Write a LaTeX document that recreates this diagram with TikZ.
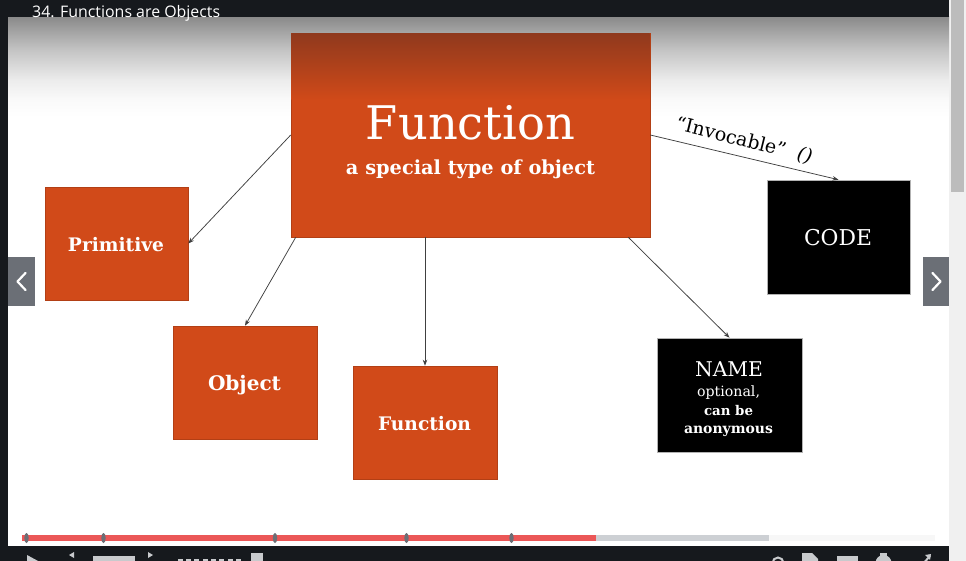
\documentclass[tikz,border=0pt]{standalone}
\usepackage{fontspec}
\setmainfont{DejaVu Serif}
\newfontfamily\uifont{Open Sans}
\usetikzlibrary{arrows.meta,calc}
\definecolor{fnorange}{HTML}{D14A19}
\definecolor{fnorangedark}{HTML}{8F391D}
\definecolor{playerdark}{HTML}{16191D}
\definecolor{navgray}{HTML}{6B6F76}
\definecolor{arrowgray}{HTML}{404040}
\definecolor{progred}{HTML}{EB5757}
\definecolor{proggray}{HTML}{CDD0D4}
\definecolor{progtrack}{HTML}{F7F7F7}
\definecolor{uiicon}{HTML}{C8CACD}
\definecolor{sidegray}{HTML}{F0F0F0}
\definecolor{thumbgray}{HTML}{BCBCBC}
\definecolor{gA}{HTML}{8A8A8A}
\definecolor{gB}{HTML}{AAAAAA}
\definecolor{gC}{HTML}{C4C4C4}
\definecolor{gD}{HTML}{D8D8D8}
\definecolor{gE}{HTML}{ECECEC}
\definecolor{gF}{HTML}{FAFAFA}
\pgfdeclareverticalshading{slidetop}{100bp}{color(0bp)=(white); color(25bp)=(white); color(33.5bp)=(gF); color(43.5bp)=(gE); color(51bp)=(gD); color(58.5bp)=(gC); color(66bp)=(gB); color(75bp)=(gA); color(100bp)=(gA)}
\newcommand{\fitw}[2]{\resizebox{#1}{!}{#2}}
\begin{document}
\begin{tikzpicture}[x=1pt,y=-1pt,
  orangebox/.style={fill=fnorange, draw=fnorange!85!black, line width=0.6pt, inner sep=0pt},
  blackbox/.style={fill=black, draw=gray!60, line width=0.6pt, inner sep=0pt},
  boxtext/.style={text=white, inner sep=0pt, anchor=base},
  link/.style={draw=arrowgray, line width=0.75pt, -{Stealth[length=6pt,width=4.5pt]}},
  navbtn/.style={fill=navgray, draw=none},
  chevron/.style={draw=white, line width=2.2pt, line cap=round, line join=round},
  marker/.style={fill=navgray, draw=none},
  icon/.style={fill=uiicon, draw=none},
]
\useasboundingbox (0,0) rectangle (966,561);
\clip (0,0) rectangle (966,561);
% page background
\fill[white] (0,0) rectangle (966,561);
\fill[sidegray] (949,0) rectangle (966,561);
\fill[thumbgray] (951,0) rectangle (964,192);
\fill[playerdark] (0,0) rectangle (8,561);
% slide top gradient
\shade[shading=slidetop] (8,17) rectangle (949,117);
\fill[playerdark] (0,0) rectangle (949,17);
\fill[playerdark] (0,546) rectangle (949,561);
% title
\node[text=white, inner sep=0pt, anchor=base west] (title) at (32,17.5) {\uifont\fitw{188pt}{34. Functions are Objects}};

% main box
\node[orangebox, minimum width=359pt, minimum height=204pt] (main) at (470.5,135) {};
\shade[top color=fnorangedark, bottom color=fnorange] (291.3,33.3) rectangle (649.7,100);
\node[boxtext] (mainT) at (470.5,140) {\fitw{209pt}{Function}};
\node[boxtext] (mainS) at (470.5,175) {\fitw{249pt}{\bfseries a special type of object}};

% other boxes
\node[orangebox, minimum width=143pt, minimum height=113pt] (prim) at (116.5,243.5) {};
\node[boxtext] (primT) at (116,251.5) {\fitw{96pt}{\bfseries Primitive}};
\node[orangebox, minimum width=144pt, minimum height=113pt] (obj) at (245,382.5) {};
\node[boxtext] (objT) at (244.5,390.5) {\fitw{73pt}{\bfseries Object}};
\node[orangebox, minimum width=144pt, minimum height=113pt] (fn) at (425,422.5) {};
\node[boxtext] (fnT) at (424.5,430) {\fitw{93pt}{\bfseries Function}};
\node[blackbox, minimum width=143pt, minimum height=114pt] (code) at (838.5,237) {};
\node[boxtext] (codeT) at (838,245.5) {\fitw{68pt}{CODE}};
\node[blackbox, minimum width=145pt, minimum height=114pt] (name) at (729.5,395) {};
\node[boxtext] (nameT) at (729,376) {\fitw{68pt}{NAME}};
\node[boxtext] (nameO) at (728.5,396) {\fitw{63pt}{optional,}};
\node[boxtext] (nameC) at (728.5,415) {\fitw{49pt}{\bfseries can be}};
\node[boxtext] (nameA) at (728.5,433) {\fitw{89pt}{\bfseries anonymous}};

% connectors
\draw[link] (main.west) -- (prim.east);
\draw[link] ($(main.south west)+(5,0)$) -- (obj.north);
\draw[link] (fn.north |- main.south) -- (fn.north);
\draw[link] ($(main.south east)+(-22,0)$) -- (name.north);
\draw[link] (main.east) -- (code.north);
\node[inner sep=0pt, rotate=-14, text=black] (invoc) at (744,141) {\fitw{140pt}{“Invocable”\ \ \textit{()}}};

% navigation buttons
\fill[navbtn] (8,257) rectangle (35,306);
\draw[chevron] (25.5,273) -- (17.5,281.5) -- (25.5,290);
\fill[navbtn] (923,257) rectangle (949,306);
\draw[chevron] (932.5,273) -- (940.5,281.5) -- (932.5,290);

% progress bar
\fill[progtrack] (22,535) rectangle (935,541);
\fill[proggray] (596,535) rectangle (769,541);
\fill[progred] (22,535) rectangle (596,541);
\foreach \mx in {26.5,103.5,275,406.5,511.5} {
  \fill[marker] (\mx,538) ellipse (2.2pt and 5pt);
}
% player controls (cut off)
\fill[icon] (27,555) -- (39,561.5) -- (27,568) -- cycle;
\draw[uiicon, line width=2pt] (66,562) arc (180:45:5.5);
\fill[icon] (69,555) -- (74,552) -- (74,558) -- cycle;
\fill[icon] (93,556) rectangle (135,565);
\draw[uiicon, line width=2pt] (162,562) arc (0:135:5.5);
\fill[icon] (153,555) -- (148,552) -- (148,558) -- cycle;
\foreach \tx in {178,186,194,203,211,219,228,236} {
  \fill[icon] (\tx,558.5) rectangle ++(5,3);
}
\fill[icon] (251,553) rectangle (263,565);
\draw[uiicon, line width=2pt] (778,563) circle (5.5);
\fill[icon] (802,553) -- (812,553) -- (818,559) -- (818,565) -- (802,565) -- cycle;
\fill[icon] (837,556) rectangle (858,565);
\fill[icon] (883.5,563) circle (8);
\fill[icon] (880,553) rectangle (887,558);
\draw[uiicon, line width=2pt] (922,565) -- (930,556);
\fill[icon] (925,555) -- (931,554) -- (930,560) -- cycle;
\end{tikzpicture}
\end{document}
